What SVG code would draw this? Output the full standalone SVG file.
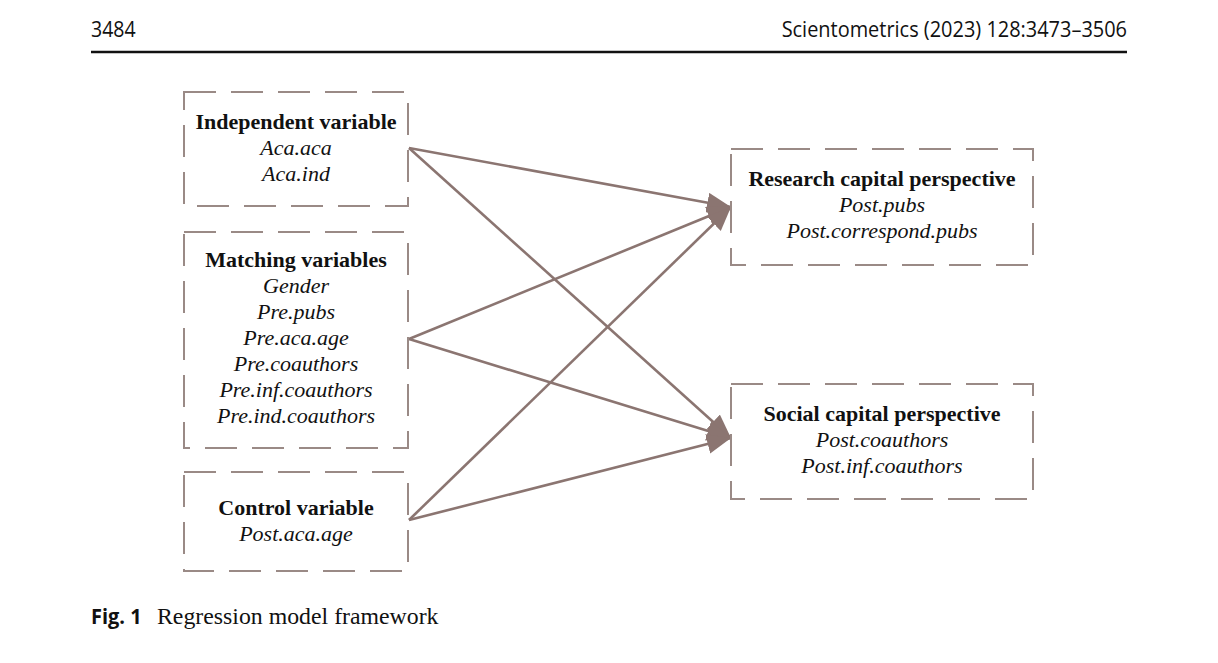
<svg xmlns="http://www.w3.org/2000/svg" width="1218" height="663" viewBox="0 0 1218 663">
<style>
.box{fill:none;stroke:#9a8a86;stroke-width:2;stroke-dasharray:32 15}
.hd{font-family:"Liberation Serif","Times New Roman",serif;font-weight:bold;font-size:22px;fill:#111;text-anchor:middle}
.it{font-family:"Liberation Serif","Times New Roman",serif;font-style:italic;font-size:22px;fill:#111;text-anchor:middle}
.conn{stroke:#8b7571;stroke-width:2.6;fill:none}
.hdr{font-family:"Open Sans","DejaVu Sans",sans-serif;font-size:21px;fill:#111}
</style>
<defs>
<marker id="ah" markerUnits="userSpaceOnUse" markerWidth="26" markerHeight="22" refX="24" refY="10" orient="auto">
<path d="M0,0 L24,10 L0,20 Z" fill="#8b7571"/>
</marker>
</defs>
<rect width="1218" height="663" fill="#fff"/>
<g id="header">
<text class="hdr" x="91" y="37" transform="translate(91 0) scale(0.93 1) translate(-91 0)">3484</text>
<text class="hdr" x="1127" y="37" text-anchor="end" transform="translate(1127 0) scale(0.95 1) translate(-1127 0)">Scientometrics (2023) 128:3473–3506</text>
<line x1="91" y1="52" x2="1127" y2="52" stroke="#111" stroke-width="2.5"/>
</g>
<g id="connectors">
<line class="conn" x1="409" y1="148" x2="731" y2="207" marker-end="url(#ah)"/>
<line class="conn" x1="409" y1="148" x2="731" y2="438" marker-end="url(#ah)"/>
<line class="conn" x1="409" y1="339" x2="731" y2="207" marker-end="url(#ah)"/>
<line class="conn" x1="409" y1="339" x2="731" y2="438" marker-end="url(#ah)"/>
<line class="conn" x1="409" y1="520" x2="731" y2="207" marker-end="url(#ah)"/>
<line class="conn" x1="409" y1="520" x2="731" y2="438" marker-end="url(#ah)"/>
</g>
<g id="independent">
<rect class="box" x="184" y="92" width="224" height="114"/>
<text class="hd" x="296" y="129">Independent variable</text>
<text class="it" x="296" y="155">Aca.aca</text>
<text class="it" x="296" y="181">Aca.ind</text>
</g>
<g id="matching">
<rect class="box" x="184" y="232" width="224" height="216"/>
<text class="hd" x="296" y="267">Matching variables</text>
<text class="it" x="296" y="293">Gender</text>
<text class="it" x="296" y="319">Pre.pubs</text>
<text class="it" x="296" y="345">Pre.aca.age</text>
<text class="it" x="296" y="371">Pre.coauthors</text>
<text class="it" x="296" y="397">Pre.inf.coauthors</text>
<text class="it" x="296" y="423">Pre.ind.coauthors</text>
</g>
<g id="control">
<rect class="box" x="184" y="472" width="224" height="99"/>
<text class="hd" x="296" y="515">Control variable</text>
<text class="it" x="296" y="541">Post.aca.age</text>
</g>
<g id="research">
<rect class="box" x="731" y="149" width="302" height="116"/>
<text class="hd" x="882" y="186">Research capital perspective</text>
<text class="it" x="882" y="212">Post.pubs</text>
<text class="it" x="882" y="238">Post.correspond.pubs</text>
</g>
<g id="social">
<rect class="box" x="731" y="384" width="302" height="115"/>
<text class="hd" x="882" y="421">Social capital perspective</text>
<text class="it" x="882" y="447">Post.coauthors</text>
<text class="it" x="882" y="473">Post.inf.coauthors</text>
</g>
<g id="caption">
<text x="91" y="624" font-family="Open Sans, DejaVu Sans, sans-serif" font-weight="bold" font-size="21" fill="#111" transform="translate(91 0) scale(0.95 1) translate(-91 0)">Fig. 1</text>
<text x="157" y="624" font-family="Liberation Serif, Times New Roman, serif" font-size="23.8" fill="#111">Regression model framework</text>
</g>
</svg>
